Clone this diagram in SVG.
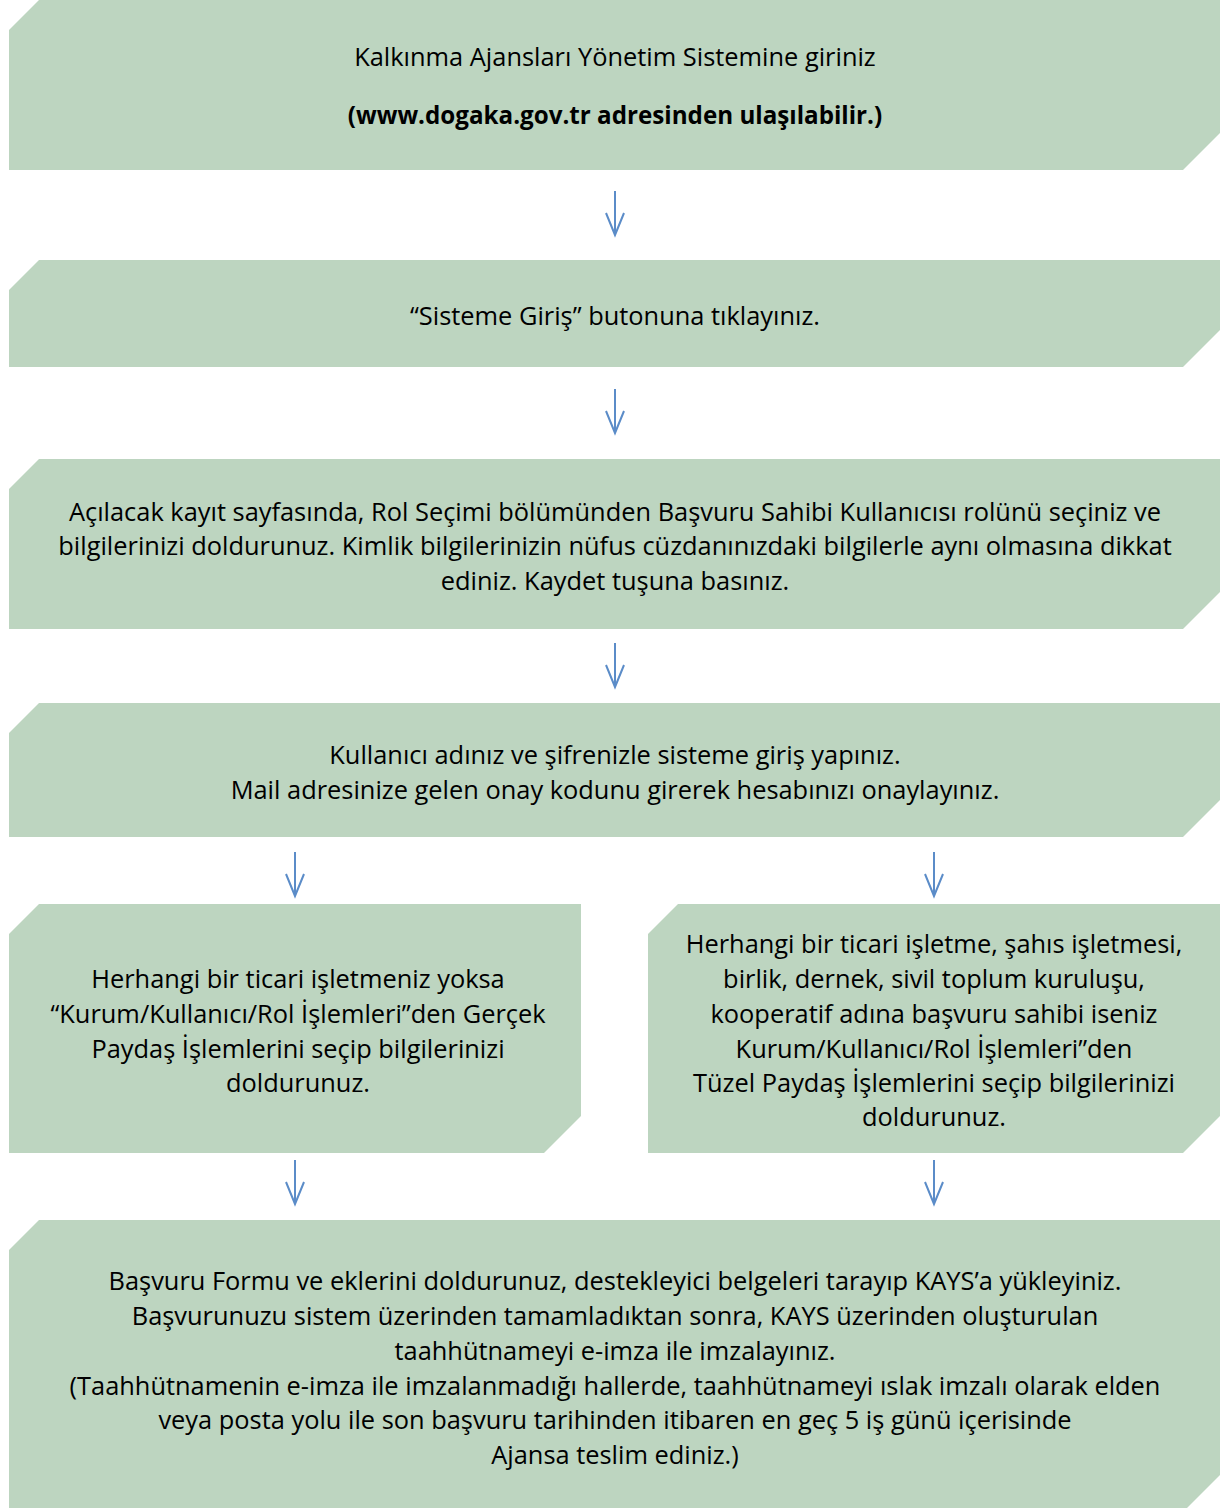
<svg xmlns="http://www.w3.org/2000/svg" width="1223" height="1508" viewBox="0 0 1223 1508">
<defs>
<style>
.box{fill:#BDD5C0;stroke:none}
.t{font-family:"Open Sans","Noto Sans","DejaVu Sans",sans-serif;font-size:25.4px;fill:#000;text-anchor:middle}
.b{font-weight:bold;font-size:24.2px}
.arr{fill:none;stroke:#5B8CC8;stroke-width:2;stroke-linejoin:miter}
</style>
</defs>
<rect width="1223" height="1508" fill="#fff"/>
<g id="node1">
<path class="box" d="M9,30 L39,0 L1220,0 L1220,133 L1183,170 L9,170 Z"/>
<text class="t" x="615" y="66">Kalkınma Ajansları Yönetim Sistemine giriniz</text>
<text class="t b" x="615" y="124">(www.dogaka.gov.tr adresinden ulaşılabilir.)</text>
</g>
<g id="node2">
<path class="box" d="M9,290 L39,260 L1220,260 L1220,330 L1183,367 L9,367 Z"/>
<text class="t" x="615" y="325">“Sisteme Giriş” butonuna tıklayınız.</text>
</g>
<g id="node3">
<path class="box" d="M9,489 L39,459 L1220,459 L1220,592 L1183,629 L9,629 Z"/>
<text class="t" x="615" y="521">Açılacak kayıt sayfasında, Rol Seçimi bölümünden Başvuru Sahibi Kullanıcısı rolünü seçiniz ve</text>
<text class="t" x="615" y="555">bilgilerinizi doldurunuz. Kimlik bilgilerinizin nüfus cüzdanınızdaki bilgilerle aynı olmasına dikkat</text>
<text class="t" x="615" y="590">ediniz. Kaydet tuşuna basınız.</text>
</g>
<g id="node4">
<path class="box" d="M9,733 L39,703 L1220,703 L1220,800 L1183,837 L9,837 Z"/>
<text class="t" x="615" y="764">Kullanıcı adınız ve şifrenizle sisteme giriş yapınız.</text>
<text class="t" x="615" y="799">Mail adresinize gelen onay kodunu girerek hesabınızı onaylayınız.</text>
</g>
<g id="node5">
<path class="box" d="M9,934 L39,904 L581,904 L581,1116 L544,1153 L9,1153 Z"/>
<text class="t" x="298" y="988">Herhangi bir ticari işletmeniz yoksa</text>
<text class="t" x="298" y="1023">“Kurum/Kullanıcı/Rol İşlemleri”den Gerçek</text>
<text class="t" x="298" y="1058">Paydaş İşlemlerini seçip bilgilerinizi</text>
<text class="t" x="298" y="1092">doldurunuz.</text>
</g>
<g id="node6">
<path class="box" d="M648,934 L678,904 L1220,904 L1220,1116 L1183,1153 L648,1153 Z"/>
<text class="t" x="934" y="953">Herhangi bir ticari işletme, şahıs işletmesi,</text>
<text class="t" x="934" y="988">birlik, dernek, sivil toplum kuruluşu,</text>
<text class="t" x="934" y="1023">kooperatif adına başvuru sahibi iseniz</text>
<text class="t" x="934" y="1058">Kurum/Kullanıcı/Rol İşlemleri”den</text>
<text class="t" x="934" y="1092">Tüzel Paydaş İşlemlerini seçip bilgilerinizi</text>
<text class="t" x="934" y="1126">doldurunuz.</text>
</g>
<g id="node7">
<path class="box" d="M9,1250 L39,1220 L1220,1220 L1220,1475 L1183,1512 L9,1512 Z"/>
<text class="t" x="615" y="1290">Başvuru Formu ve eklerini doldurunuz, destekleyici belgeleri tarayıp KAYS’a yükleyiniz.</text>
<text class="t" x="615" y="1325">Başvurunuzu sistem üzerinden tamamladıktan sonra, KAYS üzerinden oluşturulan</text>
<text class="t" x="615" y="1360">taahhütnameyi e-imza ile imzalayınız.</text>
<text class="t" x="615" y="1395">(Taahhütnamenin e-imza ile imzalanmadığı hallerde, taahhütnameyi ıslak imzalı olarak elden</text>
<text class="t" x="615" y="1429">veya posta yolu ile son başvuru tarihinden itibaren en geç 5 iş günü içerisinde</text>
<text class="t" x="615" y="1464">Ajansa teslim ediniz.)</text>
</g>
<g id="connectors">
<path class="arr" d="M615,191 V235 M606,213 L615,235 L624,213"/>
<path class="arr" d="M615,389 V433 M606,411 L615,433 L624,411"/>
<path class="arr" d="M615,643 V687 M606,665 L615,687 L624,665"/>
<path class="arr" d="M295,852 V896 M286,874 L295,896 L304,874"/>
<path class="arr" d="M934,852 V896 M925,874 L934,896 L943,874"/>
<path class="arr" d="M295,1160 V1204 M286,1182 L295,1204 L304,1182"/>
<path class="arr" d="M934,1160 V1204 M925,1182 L934,1204 L943,1182"/>
</g>
</svg>
